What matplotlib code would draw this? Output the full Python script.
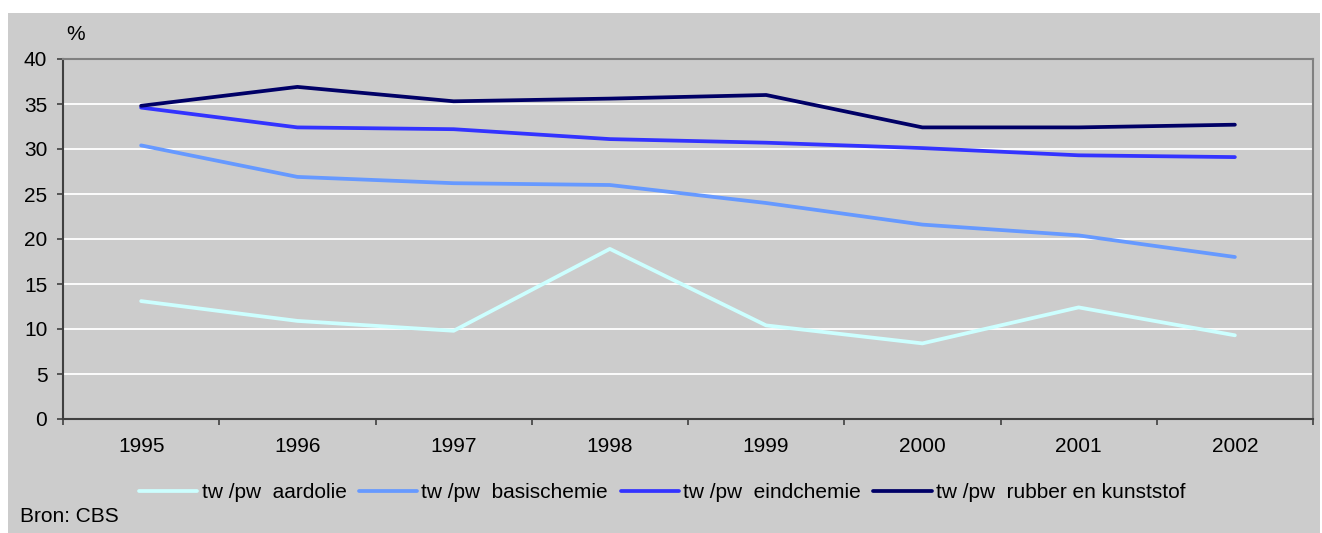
import numpy as np
import matplotlib.pyplot as plt
from matplotlib.patches import Rectangle

# data
jaren = ['1995', '1996', '1997', '1998', '1999', '2000', '2001', '2002']
aardolie = [13.1, 10.9, 9.8, 18.9, 10.4, 8.4, 12.4, 9.3]
basischemie = [30.4, 26.9, 26.2, 26.0, 24.0, 21.6, 20.4, 18.0]
eindchemie = [34.6, 32.4, 32.2, 31.1, 30.7, 30.1, 29.3, 29.1]
rubber = [34.8, 36.9, 35.3, 35.6, 36.0, 32.4, 32.4, 32.7]

labels = ['tw /pw  aardolie', 'tw /pw  basischemie', 'tw /pw  eindchemie',
          'tw /pw  rubber en kunststof']
kleuren = ['#CCFFFF', '#6699FF', '#3333FF', '#000066']

plt.rcParams['font.family'] = ['Liberation Sans', 'DejaVu Sans']
fs = 15
W, H = 1322, 533

fig = plt.figure(figsize=(W / 100, H / 100), dpi=100)
fig.patch.set_facecolor('white')
# grey background panel, behind the axes
fig.add_artist(Rectangle((8 / W, 0), (1320 - 8) / W, (H - 13) / H,
                         transform=fig.transFigure, facecolor='#CCCCCC',
                         edgecolor='none', zorder=-10))

ax = fig.add_axes([63 / W, 1 - 419 / H, (1313 - 63) / W, (419 - 59) / H])
ax.set_facecolor('#CCCCCC')

x = np.arange(len(jaren))
for serie, kleur, lab in zip([aardolie, basischemie, eindchemie, rubber], kleuren, labels):
    ax.plot(x, serie, color=kleur, lw=2.7, label=lab, solid_capstyle='round', zorder=3)

ax.set_xlim(-0.5, len(jaren) - 0.5)
ax.set_ylim(0, 40)
ax.set_yticks(np.arange(0, 41, 5))
ax.yaxis.grid(True, color='white', lw=1.3)
ax.set_axisbelow(True)

ax.set_xticks(x)
ax.set_xticklabels(jaren)
ax.set_xticks(np.arange(-0.5, len(jaren)), minor=True)
ax.tick_params(axis='x', which='major', length=0, pad=13, labelsize=fs)
ax.tick_params(axis='x', which='minor', length=4, width=1.2, color='#404040')
ax.tick_params(axis='y', length=4.3, width=1.2, color='#404040', pad=7, labelsize=fs)

for s in ['left', 'bottom']:
    ax.spines[s].set_color('#404040')
    ax.spines[s].set_linewidth(1.5)
for s in ['top', 'right']:
    ax.spines[s].set_color('#808080')
    ax.spines[s].set_linewidth(1.5)

fig.text(76 / W, 1 - 35 / H, '%', fontsize=fs, ha='center', va='center')
fig.text(20 / W, 1 - 516 / H, 'Bron: CBS', fontsize=fs, ha='left', va='center')

fig.legend(loc='center left', bbox_to_anchor=(139 / W, 1 - 493 / H), ncol=4,
           frameon=False, fontsize=fs, handlelength=2.8, handletextpad=0.2,
           columnspacing=0.6, borderpad=0, borderaxespad=0)

fig.savefig('out.png', dpi=100)
